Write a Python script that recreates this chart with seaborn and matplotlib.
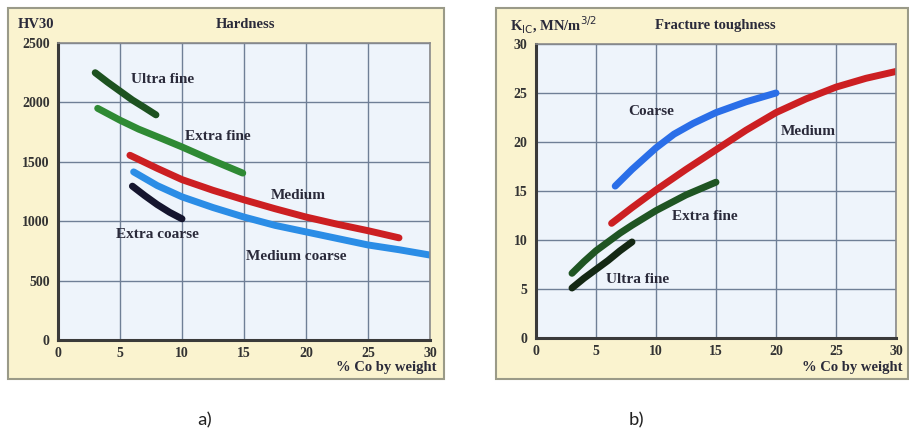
import numpy as np
import pandas as pd
import seaborn as sns
import matplotlib.pyplot as plt
from matplotlib.patches import Rectangle

# Hardness (HV30) vs % Co
uf_h_x = [3.0, 4.0, 5.0, 6.0, 7.0, 7.9]
uf_h_y = [2250, 2170, 2095, 2020, 1955, 1895]
ef_h_x = [3.2, 5.0, 6.5, 8.5, 10.0, 12.5, 14.9]
ef_h_y = [1950, 1850, 1775, 1690, 1625, 1510, 1405]
med_h_x = [5.8, 8.0, 10.0, 12.5, 15.0, 17.5, 20.0, 22.5, 25.0, 27.5]
med_h_y = [1555, 1445, 1350, 1260, 1180, 1105, 1035, 975, 920, 860]
mc_h_x = [6.1, 8.0, 10.0, 12.5, 15.0, 17.5, 20.0, 22.5, 25.0, 27.5, 30.0]
mc_h_y = [1415, 1300, 1205, 1115, 1035, 965, 910, 855, 800, 760, 715]
xc_h_x = [6.0, 7.0, 8.0, 9.0, 10.0]
xc_h_y = [1295, 1215, 1140, 1075, 1020]

# Fracture toughness K_IC vs % Co
co_t_x = [6.6, 8.0, 10.0, 11.5, 13.1, 15.0, 17.5, 20.0]
co_t_y = [15.5, 17.2, 19.4, 20.8, 21.9, 23.0, 24.1, 25.0]
med_t_x = [6.3, 8.0, 10.0, 12.5, 15.0, 17.5, 20.0, 22.5, 25.0, 27.5, 30.0]
med_t_y = [11.7, 13.3, 15.1, 17.2, 19.2, 21.2, 23.0, 24.4, 25.6, 26.5, 27.2]
ef_t_x = [3.0, 4.0, 5.0, 6.0, 7.0, 8.0, 10.0, 12.5, 15.0]
ef_t_y = [6.6, 7.8, 8.9, 9.8, 10.7, 11.5, 13.0, 14.6, 15.9]
uf_t_x = [3.0, 4.0, 5.0, 6.0, 7.0, 8.0]
uf_t_y = [5.1, 6.1, 7.0, 7.9, 8.9, 9.8]

hard = pd.concat([
    pd.DataFrame({"co": uf_h_x, "v": uf_h_y, "grade": "Ultra fine"}),
    pd.DataFrame({"co": ef_h_x, "v": ef_h_y, "grade": "Extra fine"}),
    pd.DataFrame({"co": med_h_x, "v": med_h_y, "grade": "Medium"}),
    pd.DataFrame({"co": mc_h_x, "v": mc_h_y, "grade": "Medium coarse"}),
    pd.DataFrame({"co": xc_h_x, "v": xc_h_y, "grade": "Extra coarse"}),
])
tough = pd.concat([
    pd.DataFrame({"co": co_t_x, "v": co_t_y, "grade": "Coarse"}),
    pd.DataFrame({"co": med_t_x, "v": med_t_y, "grade": "Medium"}),
    pd.DataFrame({"co": ef_t_x, "v": ef_t_y, "grade": "Extra fine"}),
    pd.DataFrame({"co": uf_t_x, "v": uf_t_y, "grade": "Ultra fine"}),
])

hard_colors = {"Ultra fine": "#1d5220", "Extra fine": "#2f8a34", "Medium": "#cc1f22",
               "Medium coarse": "#2b8de6", "Extra coarse": "#15152e"}
tough_colors = {"Coarse": "#2a6ee8", "Medium": "#cc1f22", "Extra fine": "#1f5523",
                "Ultra fine": "#142814"}

sns.set_style("white")
plt.rcParams["font.family"] = ["Liberation Serif", "DejaVu Serif"]

fig = plt.figure(figsize=(9.09, 4.37), dpi=100)
W, H = 909, 437

# cream panel boxes, behind the axes
for x0, x1 in [(8, 444), (496, 908)]:
    fig.patches.append(Rectangle((x0 / W, 1 - 379 / H), (x1 - x0) / W, 371 / H,
                                 transform=fig.transFigure, facecolor="#faf3cf",
                                 edgecolor="#9a9a88", linewidth=1.5, zorder=-10))

ax1 = fig.add_axes([58 / W, 1 - 340 / H, 372 / W, 297 / H])
ax2 = fig.add_axes([536 / W, 1 - 338 / H, 360 / W, 294 / H])


def style(ax, ymax, ystep):
    ax.set_facecolor("#eef4fb")
    ax.set_xlim(0, 30)
    ax.set_ylim(0, ymax)
    ax.set_xticks(range(0, 31, 5))
    ax.set_yticks(np.arange(0, ymax + 1, ystep))
    ax.grid(True, color="#6f7f96", linewidth=1.0)
    ax.set_axisbelow(True)
    for s in ["left", "bottom"]:
        ax.spines[s].set_color("#3a3a3a")
        ax.spines[s].set_linewidth(2.2)
    for s in ["top", "right"]:
        ax.spines[s].set_color("#8a8a8a")
        ax.spines[s].set_linewidth(1.2)
    ax.tick_params(axis="both", labelsize=10, colors="#333333", length=3,
                   direction="out", pad=3)
    ax.tick_params(axis="x", pad=2)
    ax.set_xlabel("")
    ax.set_ylabel("")
    for t in ax.get_xticklabels() + ax.get_yticklabels():
        t.set_fontweight("bold")


sns.lineplot(data=hard, x="co", y="v", hue="grade", palette=hard_colors, sort=False,
             estimator=None, linewidth=5, legend=False, ax=ax1)
sns.lineplot(data=tough, x="co", y="v", hue="grade", palette=tough_colors, sort=False,
             estimator=None, linewidth=5, legend=False, ax=ax2)
style(ax1, 2500, 500)
style(ax2, 30, 5)

lab = dict(fontsize=11, fontweight="bold", color="#2a2a3a", ha="center", va="center")
ax1.text(8.4, 2190, "Ultra fine", **lab)
ax1.text(12.9, 1710, "Extra fine", **lab)
ax1.text(19.4, 1220, "Medium", **lab)
ax1.text(8.0, 884, "Extra coarse", **lab)
ax1.text(19.2, 700, "Medium coarse", **lab)

ax2.text(9.6, 23.1, "Coarse", **lab)
ax2.text(22.7, 21.1, "Medium", **lab)
ax2.text(14.1, 12.4, "Extra fine", **lab)
ax2.text(8.5, 5.95, "Ultra fine", **lab)

top = dict(fontsize=10.5, fontweight="bold", color="#2a2a3a", va="center")
fig.text(245 / W, 1 - 25 / H, "Hardness", ha="center", **top)
fig.text(18 / W, 1 - 25 / H, "HV30", ha="left", **top)
fig.text(715 / W, 1 - 25 / H, "Fracture toughness", ha="center", **top)
fig.text(510 / W, 1 - 25 / H, r"K$_{\mathrm{IC}}$, MN/m$^{3/2}$", ha="left", **top)
fig.text(436 / W, 1 - 368 / H, "% Co by weight", ha="right", **top)
fig.text(902 / W, 1 - 368 / H, "% Co by weight", ha="right", **top)

fig.text(205 / W, 1 - 420 / H, "a)", ha="center", va="center", fontsize=14,
         family=["Carlito", "Liberation Sans", "DejaVu Sans"], color="#222222")
fig.text(637 / W, 1 - 420 / H, "b)", ha="center", va="center", fontsize=14,
         family=["Carlito", "Liberation Sans", "DejaVu Sans"], color="#222222")

fig.savefig("out.png", dpi=100)
